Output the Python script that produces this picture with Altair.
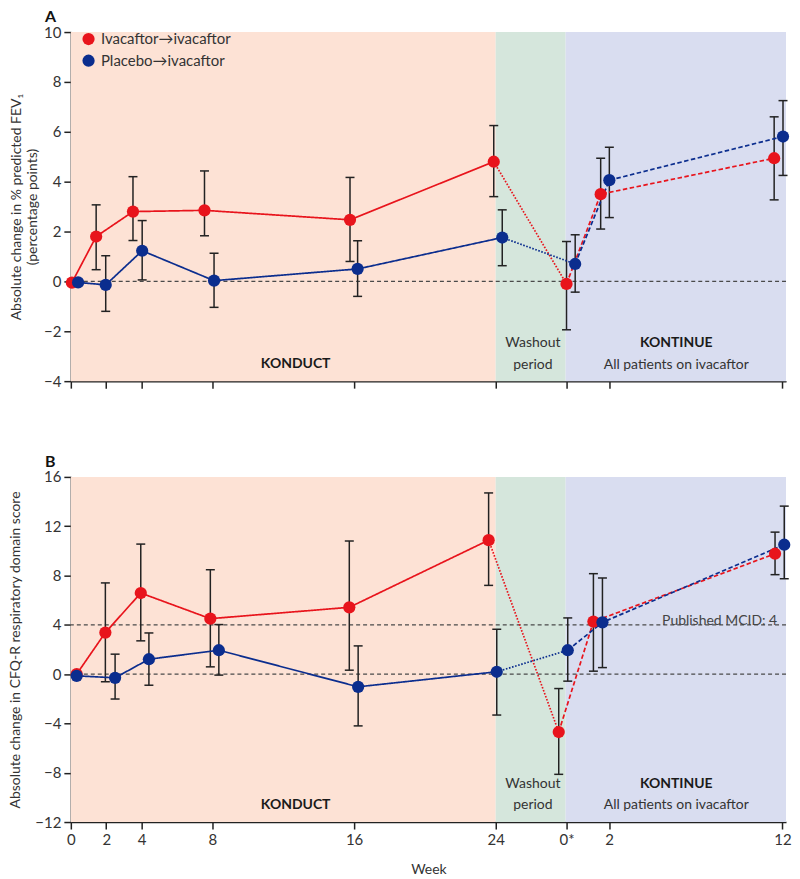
import altair as alt
import pandas as pd

FONT = "Lato"

# ---------------- shared axis data ----------------
tick_pos = [0, 2, 4, 8, 16, 24, 28, 30.4, 40.2]
tick_labels = ["0", "2", "4", "8", "16", "24", "0*", "2", "12"]
x_domain = [0, 40.4]

groups = ["Ivacaftor→ivacaftor", "Placebo→ivacaftor"]
group_colors = ["#e8141c", "#0b2d8e"]

# phase bands
band_start = [0, 24.0, 27.95]
band_end = [24.0, 27.95, 40.4]
band_colors = ["#fde2d5", "#d5e6dc", "#d9ddf0"]

# phase of each line segment: point index ranges
seg_names = ["solid", "dotted", "dashed"]
seg_index = [[0, 1, 2, 3, 4, 5], [5, 6], [6, 7, 8]]

# ---------------- Panel A: FEV1 ----------------
a_red_x = [0.06, 1.43, 3.51, 7.55, 15.77, 23.89, 28.0, 29.93, 39.73]
a_red_y = [-0.05, 1.8, 2.8, 2.85, 2.47, 4.8, -0.1, 3.5, 4.94]
a_red_lo = [None, 0.47, 1.64, 1.83, 0.8, 3.4, -1.94, 2.1, 3.27]
a_red_hi = [None, 3.07, 4.2, 4.43, 4.17, 6.25, 1.6, 4.94, 6.6]

a_blue_x = [0.41, 1.97, 4.03, 8.09, 16.2, 24.37, 28.49, 30.42, 40.23]
a_blue_y = [-0.04, -0.14, 1.23, 0.03, 0.5, 1.76, 0.7, 4.06, 5.81]
a_blue_lo = [None, -1.2, 0.06, -1.04, -0.6, 0.63, -0.43, 2.56, 4.25]
a_blue_hi = [None, 1.03, 2.44, 1.13, 1.63, 2.87, 1.87, 5.38, 7.25]

# ---------------- Panel B: CFQ-R ----------------
b_red_x = [0.33, 1.95, 3.95, 7.88, 15.73, 23.6, 27.56, 29.52, 39.78]
b_red_y = [0.0, 3.37, 6.58, 4.5, 5.42, 10.87, -4.7, 4.26, 9.77]
b_red_lo = [None, -0.62, 2.7, 0.59, 0.32, 7.2, -8.13, 0.24, 8.07]
b_red_hi = [None, 7.4, 10.55, 8.47, 10.8, 14.7, -1.17, 8.15, 11.52]

b_blue_x = [0.33, 2.5, 4.41, 8.36, 16.23, 24.06, 28.07, 30.03, 40.3]
b_blue_y = [-0.14, -0.3, 1.21, 1.94, -1.03, 0.19, 1.94, 4.2, 10.5]
b_blue_lo = [None, -2.02, -0.9, -0.08, -4.2, -3.32, -0.57, 0.53, 7.74]
b_blue_hi = [None, 1.62, 3.34, 4.02, 2.29, 3.64, 4.56, 7.8, 13.63]

# ---------------- annotations ----------------
phase_text = ["KONDUCT", "Washout", "period", "KONTINUE", "All patients on ivacaftor"]
phase_bold = [True, False, False, True, False]
phase_x = [12.7, 26.1, 26.1, 34.2, 34.2]
a_phase_y = [-3.3, -2.47, -3.34, -2.47, -3.34]
b_phase_y = [-10.6, -8.94, -10.6, -8.94, -10.6]

legend_x = [1.0, 1.0]
legend_text_x = [1.7, 1.7]
legend_y = [9.72, 8.85]

mcid_value = 4
mcid_label = "Published MCID: 4"
mcid_x = 39.9


def build_points(red, blue):
    rows = []
    for g, (xs, ys, los, his) in zip(groups, [red, blue]):
        for i, (x, y, lo, hi) in enumerate(zip(xs, ys, los, his)):
            rows.append(dict(group=g, idx=i, x=x, y=y, lo=lo, hi=hi))
    return pd.DataFrame(rows)


def build_lines(red, blue):
    rows = []
    for g, (xs, ys, _, _) in zip(groups, [red, blue]):
        for sname, idxs in zip(seg_names, seg_index):
            for i in idxs:
                rows.append(dict(group=g, seg=sname, key=g + sname, x=xs[i], y=ys[i]))
    return pd.DataFrame(rows)


label_expr = "".join(
    f"abs(datum.value - {p}) < 0.01 ? '{l}' : " for p, l in zip(tick_pos, tick_labels)
) + "''"

color_scale = alt.Scale(domain=groups, range=group_colors)
dash_scale = alt.Scale(domain=seg_names, range=[[1, 0], [1.6, 1.6], [4.5, 2.5]])

bands_df = pd.DataFrame({"x": band_start, "x2": band_end, "c": band_colors})

AX = dict(grid=False, tickSize=7, domainColor="#222222", domainWidth=1.5,
          tickColor="#222222", tickWidth=1.5, labelColor="#333333",
          titleColor="#333333", labelFont=FONT, titleFont=FONT,
          labelFontSize=15, titleFontSize=14, titleFontWeight="normal")


def panel(red, blue, y_domain, y_step, y_title, phase_y, title, height,
          show_x_labels, title_pad, extra):
    pts = build_points(red, blue)
    lines = build_lines(red, blue)
    err = pts.dropna(subset=["lo"])

    y_vals = list(range(y_domain[0], y_domain[1] + 1, y_step))

    if show_x_labels:
        x_axis = alt.Axis(values=tick_pos, labelExpr=label_expr, title="Week",
                          labelPadding=4, titlePadding=15, labelFlush=False, **AX)
    else:
        x_axis = alt.Axis(values=tick_pos, labels=False, title=None, **AX)

    y_axis = alt.Axis(values=y_vals, title=y_title, titlePadding=title_pad,
                      labelPadding=3, **AX)

    xs = alt.Scale(domain=x_domain, nice=False, zero=False)
    ys = alt.Scale(domain=y_domain, nice=False, zero=False)

    def X(f):
        return alt.X(f, scale=xs, axis=x_axis)

    def Y(f):
        return alt.Y(f, scale=ys, axis=y_axis)

    bands = alt.Chart(bands_df).mark_rect().encode(
        x=X("x:Q"), x2="x2:Q", color=alt.Color("c:N", scale=None),
    )

    ref_vals = [0] + extra
    refs = alt.Chart(pd.DataFrame({"y": ref_vals})).mark_rule(
        color="#4a4a4a", strokeDash=[4, 3], strokeWidth=1.3
    ).encode(y=Y("y:Q"))

    rules = alt.Chart(err).mark_rule(color="#222222", strokeWidth=1.5).encode(
        x=X("x:Q"), y=Y("lo:Q"), y2="hi:Q"
    )
    cap_lo = alt.Chart(err).mark_tick(orient="horizontal", size=9, thickness=1.5,
                                      color="#222222", opacity=1).encode(
        x=X("x:Q"), y=Y("lo:Q")
    )
    cap_hi = alt.Chart(err).mark_tick(orient="horizontal", size=9, thickness=1.5,
                                      color="#222222", opacity=1).encode(
        x=X("x:Q"), y=Y("hi:Q")
    )

    line = alt.Chart(lines).mark_line(strokeWidth=1.7).encode(
        x=X("x:Q"), y=Y("y:Q"),
        color=alt.Color("group:N", scale=color_scale, legend=None),
        strokeDash=alt.StrokeDash("seg:N", scale=dash_scale, legend=None),
        detail="key:N",
    )

    points = alt.Chart(pts).mark_circle(size=150, opacity=1).encode(
        x=X("x:Q"), y=Y("y:Q"),
        color=alt.Color("group:N", scale=color_scale, legend=None),
        order=alt.Order("group:N"),
    )

    ph = pd.DataFrame({"t": phase_text, "x": phase_x, "y": phase_y, "b": phase_bold})
    ph_bold = alt.Chart(ph[ph.b]).mark_text(fontSize=14, fontWeight="bold",
                                           color="#1a1a1a", font=FONT,
                                           baseline="middle").encode(
        x=X("x:Q"), y=Y("y:Q"), text="t:N"
    )
    ph_norm = alt.Chart(ph[~ph.b]).mark_text(fontSize=14, color="#333333", font=FONT,
                                            baseline="middle").encode(
        x=X("x:Q"), y=Y("y:Q"), text="t:N"
    )

    layers = [bands, refs, rules, cap_lo, cap_hi, line, points, ph_bold, ph_norm]

    if extra:
        mc = alt.Chart(pd.DataFrame({"x": [mcid_x], "y": [mcid_value], "t": [mcid_label]})).mark_text(
            fontSize=14, color="#444444", font=FONT, align="right", baseline="bottom", dy=3
        ).encode(x=X("x:Q"), y=Y("y:Q"), text="t:N")
        layers.append(mc)
    else:
        leg = pd.DataFrame({"x": legend_x, "tx": legend_text_x, "y": legend_y, "g": groups})
        leg_pts = alt.Chart(leg).mark_circle(size=150, opacity=1).encode(
            x=X("x:Q"), y=Y("y:Q"),
            color=alt.Color("g:N", scale=color_scale, legend=None),
        )
        leg_txt = alt.Chart(leg).mark_text(fontSize=15, color="#333333", font=FONT,
                                           align="left", baseline="middle").encode(
            x=X("tx:Q"), y=Y("y:Q"), text="g:N"
        )
        layers += [leg_pts, leg_txt]

    return alt.layer(*layers).properties(
        width=717, height=height,
        title=alt.TitleParams(title, anchor="start", frame="group", dx=-26, fontSize=16,
                              fontWeight="bold", font=FONT, color="#111111", offset=0),
    )


panel_a = panel((a_red_x, a_red_y, a_red_lo, a_red_hi),
                (a_blue_x, a_blue_y, a_blue_lo, a_blue_hi),
                [-4, 10], 2,
                ["Absolute change in % predicted FEV₁", "(percentage points)"],
                a_phase_y, "A", 350, False, 4, [])

panel_b = panel((b_red_x, b_red_y, b_red_lo, b_red_hi),
                (b_blue_x, b_blue_y, b_blue_lo, b_blue_hi),
                [-12, 16], 4,
                "Absolute change in CFQ-R respiratory domain score",
                b_phase_y, "B", 346, True, 12, [mcid_value])

chart = alt.vconcat(panel_a, panel_b, spacing=65, padding=0).configure_view(
    stroke=None
).configure_axis(
    domainColor="#222222", domainWidth=1.5, tickColor="#222222", tickWidth=1.5,
    labelColor="#333333", titleColor="#333333", labelFont=FONT, titleFont=FONT,
    labelFontSize=15, titleFontSize=14, titleFontWeight="normal",
)

chart.save("out.html", embed_options={"renderer": "svg", "actions": False})
